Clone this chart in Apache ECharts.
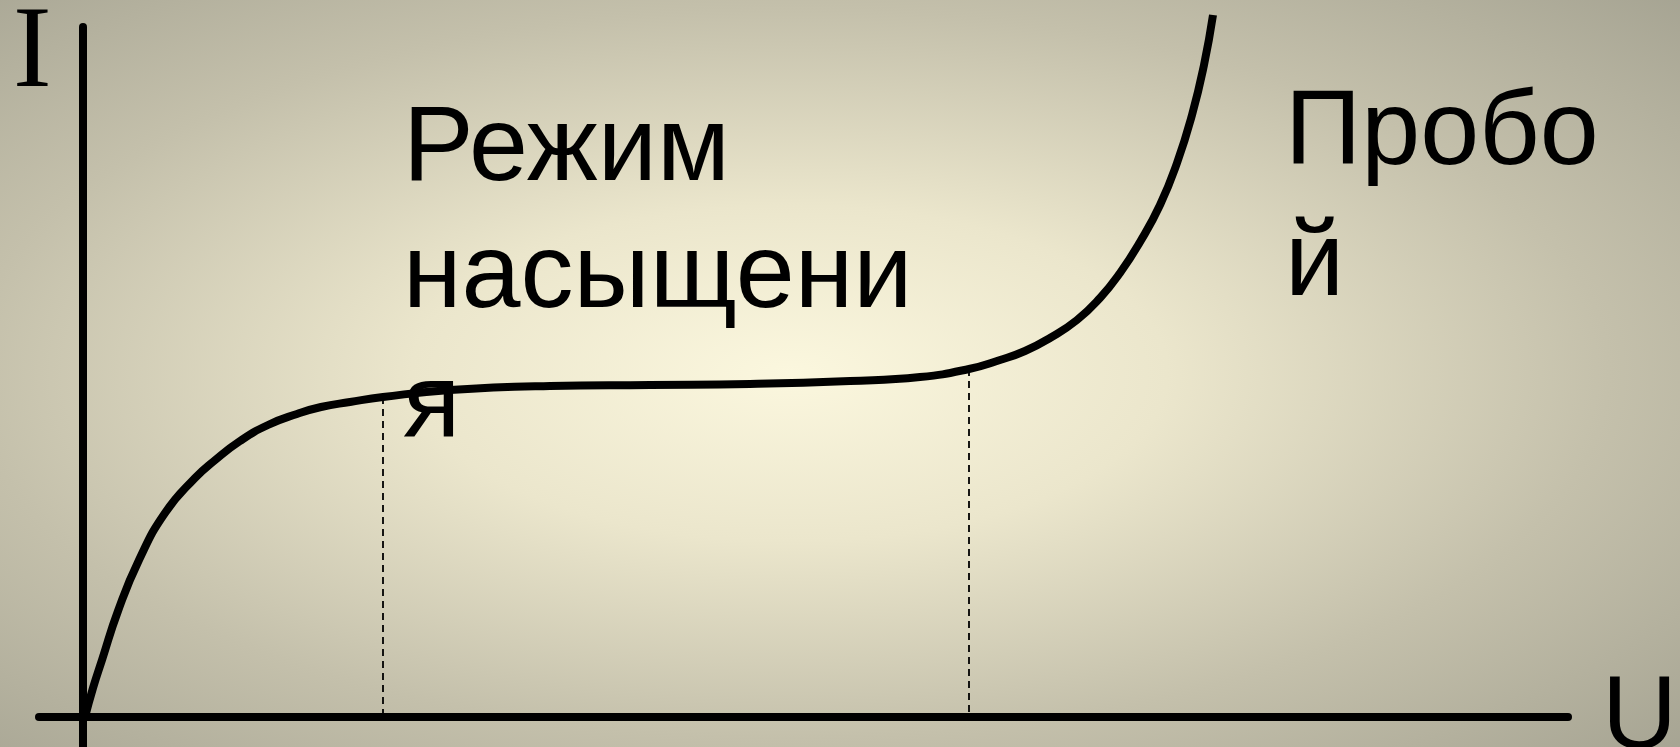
<!DOCTYPE html>
<html>
<head>
<meta charset="utf-8">
<title>Вольт-амперная характеристика</title>
<script src="https://cdn.jsdelivr.net/npm/echarts@6/dist/echarts.min.js"></script>
<style>
  html, body { margin: 0; padding: 0; width: 1680px; height: 747px; overflow: hidden; }
  #chart { width: 1680px; height: 747px; }
</style>
</head>
<body>
<div id="chart"></div>
<script>
// Current–voltage curve: steep rise, saturation plateau, breakdown
const voltage = [0.02, 0.10, 0.19, 0.35, 0.56, 0.82, 1.12, 1.31, 1.57, 1.85, 2.14, 2.38, 2.67, 3.00,
                 3.67, 4.67, 5.67, 6.67, 7.67, 8.37, 8.86, 9.17, 9.42, 9.67, 9.94, 10.17, 10.37,
                 10.57, 10.77, 10.94, 11.09, 11.21, 11.30];
const current = [0.00, 0.29, 0.57, 1.06, 1.57, 2.04, 2.39, 2.56, 2.76, 2.92, 3.03, 3.10, 3.15, 3.20,
                 3.27, 3.31, 3.32, 3.33, 3.36, 3.40, 3.48, 3.57, 3.66, 3.79, 3.97, 4.19, 4.44,
                 4.75, 5.12, 5.54, 6.02, 6.52, 7.02];

// Boundaries of the saturation region (voltage values on the curve)
const saturationBounds = [3.00, 8.86];

// Text
const axisNameY = 'I';
const axisNameX = 'U';
const saturationLabel = ['Режим', 'насыщени', 'я'];
const breakdownLabel = ['Пробо', 'й'];

const curve = voltage.map((u, k) => [u, current[k]]);
const boundLines = saturationBounds.map(u => {
  const k = voltage.indexOf(u);
  return [{ coord: [u, current[k]] }, { coord: [u, 0] }];
});

const W = 1680, H = 747;
const chart = echarts.init(document.getElementById('chart'), null, { renderer: 'canvas' });

const hiddenAxisParts = {
  axisTick: { show: false },
  axisLabel: { show: false },
  splitLine: { show: false }
};

// Stacked lines of a caption, one text element per line (tops given per line)
function captionLines(lines, x, tops, size) {
  return lines.map((line, k) => ({
    type: 'text', z: 100, x: x, y: tops[k],
    style: { text: line, fontFamily: 'Liberation Sans', fontSize: size, lineHeight: 126,
             fill: '#000', align: 'left', verticalAlign: 'top' }
  }));
}

chart.setOption({
  animation: false,
  grid: { left: 39, right: 112, top: 27, bottom: 0 },
  xAxis: Object.assign({
    type: 'value', min: -0.44, max: 14.85,
    axisLine: { show: true, lineStyle: { color: '#000', width: 8 } }
  }, hiddenAxisParts),
  yAxis: Object.assign({
    type: 'value', min: -0.3, max: 6.9,
    axisLine: { show: true, lineStyle: { color: '#000', width: 8 } }
  }, hiddenAxisParts),
  graphic: [
    {
      type: 'rect', z: -100, silent: true,
      shape: { x: 0, y: 0, width: W, height: W },
      scaleY: H / W,
      style: {
        fill: {
          type: 'radial', x: 0.47, y: 0.5, r: 0.75,
          colorStops: [
            { offset: 0, color: '#fbf7de' },
            { offset: 0.3, color: '#ebe6cc' },
            { offset: 0.65, color: '#c4c0ab' },
            { offset: 1, color: '#a4a291' }
          ]
        }
      }
    },
    {
      type: 'text', z: 100, x: 13, y: -2,
      style: { text: axisNameY, fontFamily: 'Liberation Serif', fontSize: 116, lineHeight: 116,
               fill: '#000', align: 'left', verticalAlign: 'top' }
    },
    {
      type: 'text', z: 100, x: 1602, y: 667,
      style: { text: axisNameX, fontFamily: 'Liberation Sans', fontSize: 104, lineHeight: 104,
               fill: '#000', align: 'left', verticalAlign: 'top' }
    }
  ].concat(
    captionLines(saturationLabel, 403, [88, 215, 345], 106),
    captionLines(breakdownLabel, 1285, [72, 203], 106)
  ),
  series: [{
    type: 'line',
    data: curve,
    smooth: true,
    showSymbol: false,
    clip: false,
    lineStyle: { color: '#000', width: 8 },
    markLine: {
      silent: true,
      symbol: 'none',
      label: { show: false },
      lineStyle: { color: '#000', width: 1.8, type: [7, 5] },
      data: boundLines
    }
  }]
});
</script>
</body>
</html>
